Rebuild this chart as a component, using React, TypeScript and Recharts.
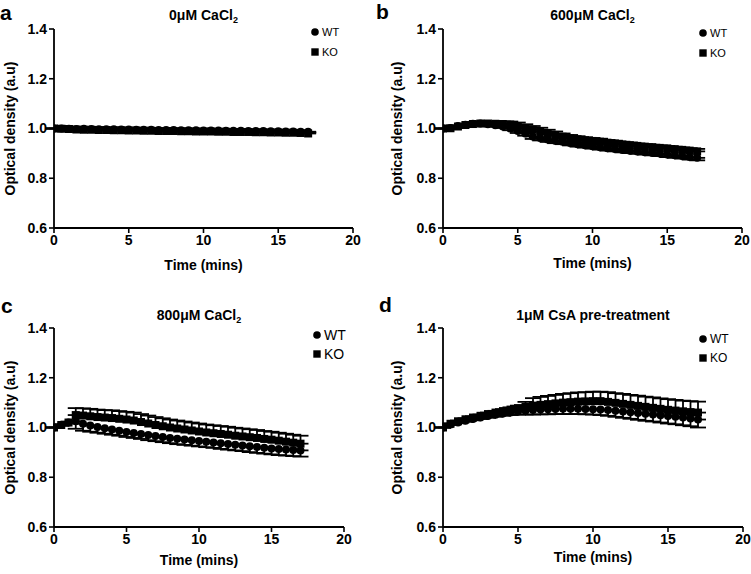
import React from 'react';
import { ScatterChart, Scatter, XAxis, YAxis, ErrorBar, Legend } from 'recharts';

const FONT = '"Liberation Sans", Arial, Helvetica, sans-serif';

const TIME = [0, 0.5, 1, 1.5, 2, 2.5, 3, 3.5, 4, 4.5, 5, 5.5, 6, 6.5, 7, 7.5, 8, 8.5, 9, 9.5, 10, 10.5, 11, 11.5, 12, 12.5, 13, 13.5, 14, 14.5, 15, 15.5, 16, 16.5, 17];
const X_TICKS = [0, 5, 10, 15, 20];
const Y_TICKS = [0.6, 0.8, 1.0, 1.2, 1.4];
const SERIES_NAMES = ['WT', 'KO'];

// Panel a: 0uM CaCl2
const A_WT = [1.000, 1.000, 0.999, 0.998, 0.999, 0.998, 0.997, 0.997, 0.997, 0.996, 0.996, 0.995, 0.995, 0.995, 0.994, 0.994, 0.994, 0.993, 0.993, 0.993, 0.992, 0.992, 0.992, 0.991, 0.991, 0.991, 0.990, 0.990, 0.990, 0.989, 0.989, 0.988, 0.988, 0.987, 0.987];
const A_KO = [1.000, 0.999, 0.998, 0.996, 0.995, 0.995, 0.994, 0.994, 0.993, 0.993, 0.992, 0.992, 0.991, 0.991, 0.990, 0.990, 0.990, 0.989, 0.989, 0.988, 0.988, 0.988, 0.987, 0.987, 0.986, 0.986, 0.986, 0.985, 0.985, 0.984, 0.984, 0.983, 0.983, 0.982, 0.980];
const A_WT_ERR = [0, 0.001, 0.001, 0.001, 0.002, 0.002, 0.002, 0.002, 0.002, 0.002, 0.002, 0.002, 0.002, 0.002, 0.002, 0.002, 0.002, 0.002, 0.002, 0.002, 0.002, 0.002, 0.002, 0.002, 0.002, 0.002, 0.002, 0.002, 0.002, 0.002, 0.002, 0.002, 0.002, 0.002, 0.002];
const A_KO_ERR = [0, 0.001, 0.001, 0.002, 0.002, 0.002, 0.002, 0.002, 0.002, 0.002, 0.002, 0.002, 0.002, 0.002, 0.002, 0.002, 0.002, 0.002, 0.002, 0.002, 0.002, 0.002, 0.002, 0.002, 0.002, 0.002, 0.002, 0.002, 0.002, 0.002, 0.002, 0.002, 0.002, 0.002, 0.003];

// Panel b: 600uM CaCl2
const B_WT = [1.000, 1.002, 1.010, 1.015, 1.019, 1.020, 1.017, 1.013, 1.008, 1.000, 0.990, 0.980, 0.968, 0.962, 0.956, 0.951, 0.947, 0.942, 0.937, 0.933, 0.929, 0.925, 0.921, 0.918, 0.914, 0.911, 0.908, 0.905, 0.902, 0.899, 0.895, 0.892, 0.889, 0.885, 0.882];
const B_KO = [1.000, 1.001, 1.008, 1.014, 1.018, 1.020, 1.020, 1.019, 1.018, 1.016, 1.010, 1.002, 0.995, 0.988, 0.981, 0.974, 0.967, 0.961, 0.957, 0.953, 0.950, 0.947, 0.943, 0.940, 0.936, 0.933, 0.930, 0.927, 0.925, 0.922, 0.920, 0.917, 0.914, 0.911, 0.908];
const B_WT_ERR = [0, 0.002, 0.003, 0.003, 0.004, 0.004, 0.005, 0.005, 0.006, 0.007, 0.008, 0.009, 0.010, 0.010, 0.010, 0.010, 0.010, 0.010, 0.010, 0.010, 0.010, 0.010, 0.010, 0.010, 0.010, 0.010, 0.010, 0.010, 0.010, 0.010, 0.010, 0.010, 0.010, 0.010, 0.010];
const B_KO_ERR = [0, 0.002, 0.003, 0.003, 0.004, 0.005, 0.006, 0.008, 0.010, 0.012, 0.014, 0.015, 0.015, 0.015, 0.014, 0.014, 0.013, 0.013, 0.012, 0.012, 0.012, 0.012, 0.011, 0.011, 0.011, 0.011, 0.010, 0.010, 0.010, 0.010, 0.010, 0.010, 0.010, 0.010, 0.010];

// Panel c: 800uM CaCl2
const C_WT = [1.000, 1.010, 1.020, 1.025, 1.015, 1.008, 1.002, 0.997, 0.992, 0.987, 0.982, 0.978, 0.974, 0.970, 0.966, 0.962, 0.958, 0.955, 0.952, 0.949, 0.946, 0.943, 0.940, 0.937, 0.934, 0.931, 0.928, 0.925, 0.922, 0.919, 0.916, 0.914, 0.912, 0.910, 0.908];
const C_KO = [1.000, 1.010, 1.020, 1.050, 1.048, 1.045, 1.042, 1.040, 1.038, 1.035, 1.032, 1.028, 1.022, 1.016, 1.010, 1.005, 1.000, 0.996, 0.992, 0.988, 0.984, 0.980, 0.977, 0.974, 0.971, 0.967, 0.964, 0.961, 0.958, 0.954, 0.951, 0.947, 0.943, 0.939, 0.935];
const C_WT_ERR = [0, 0.003, 0.004, 0.030, 0.028, 0.025, 0.023, 0.022, 0.021, 0.020, 0.020, 0.020, 0.020, 0.021, 0.021, 0.021, 0.021, 0.022, 0.022, 0.022, 0.022, 0.022, 0.022, 0.023, 0.023, 0.023, 0.023, 0.024, 0.024, 0.024, 0.024, 0.025, 0.025, 0.025, 0.025];
const C_KO_ERR = [0, 0.003, 0.004, 0.028, 0.029, 0.030, 0.030, 0.030, 0.031, 0.031, 0.031, 0.032, 0.032, 0.032, 0.032, 0.032, 0.032, 0.032, 0.032, 0.032, 0.032, 0.032, 0.032, 0.032, 0.032, 0.032, 0.032, 0.032, 0.032, 0.032, 0.032, 0.032, 0.032, 0.032, 0.032];

// Panel d: 1uM CsA pre-treatment
const D_WT = [1.000, 1.012, 1.020, 1.027, 1.034, 1.040, 1.046, 1.051, 1.056, 1.060, 1.064, 1.067, 1.070, 1.072, 1.073, 1.074, 1.075, 1.075, 1.075, 1.074, 1.073, 1.072, 1.070, 1.067, 1.064, 1.061, 1.058, 1.055, 1.052, 1.049, 1.046, 1.043, 1.040, 1.036, 1.032];
const D_KO = [1.000, 1.015, 1.025, 1.033, 1.040, 1.047, 1.054, 1.060, 1.066, 1.072, 1.078, 1.083, 1.088, 1.091, 1.094, 1.097, 1.100, 1.102, 1.104, 1.105, 1.106, 1.106, 1.103, 1.099, 1.095, 1.091, 1.087, 1.083, 1.079, 1.075, 1.071, 1.068, 1.065, 1.062, 1.060];
const D_WT_ERR = [0, 0.002, 0.003, 0.004, 0.005, 0.006, 0.007, 0.008, 0.009, 0.010, 0.012, 0.015, 0.018, 0.019, 0.020, 0.020, 0.021, 0.021, 0.021, 0.021, 0.021, 0.022, 0.023, 0.024, 0.025, 0.026, 0.027, 0.028, 0.028, 0.029, 0.030, 0.030, 0.031, 0.031, 0.032];
const D_KO_ERR = [0, 0.002, 0.003, 0.004, 0.005, 0.005, 0.006, 0.007, 0.008, 0.009, 0.010, 0.020, 0.030, 0.032, 0.033, 0.034, 0.035, 0.036, 0.037, 0.037, 0.038, 0.038, 0.039, 0.039, 0.040, 0.040, 0.041, 0.041, 0.042, 0.042, 0.043, 0.043, 0.043, 0.044, 0.044];

const CircleShape = (props: any) => <circle cx={props.cx} cy={props.cy} r={4} fill="#000" />;
const SquareShape = (props: any) => <rect x={props.cx - 4} y={props.cy - 4} width={8} height={8} fill="#000" />;

type PanelProps = {
  letter: string;
  titleMain: string;
  titleSub?: string;
  axisX: number;
  plotTop: number;
  plotW: number;
  plotH: number;
  yLabelX: number;
  xLabelDy: number;
  wt: number[];
  ko: number[];
  wtErr: number[];
  koErr: number[];
  legendLeft: number;
  legendTop: number;
  legendFont: number;
  legendGap: number;
  letterX: number;
  letterY: number;
  titleY: number;
};

const LegendBox = ({ fs, gap }: { fs: number; gap: number }) => (
  <div style={{ fontFamily: FONT, fontSize: fs, color: '#000' }}>
    {SERIES_NAMES.map((n) => (
      <div key={n} style={{ display: 'flex', alignItems: 'center', height: gap }}>
        <svg width={8} height={8} style={{ display: 'block' }}>
          {n === 'WT' ? <circle cx={4} cy={4} r={3.8} fill="#000" /> : <rect x={0.3} y={0.3} width={7.4} height={7.4} fill="#000" />}
        </svg>
        <span style={{ marginLeft: 3, lineHeight: 1 }}>{n}</span>
      </div>
    ))}
  </div>
);

const ML = 54;
const MT = 10;
const MR = 10;
const XH = 50;

function Panel(p: PanelProps) {
  const wtData = TIME.map((t, i) => ({ t, v: p.wt[i], e: [p.wtErr[i], 0] }));
  const koData = TIME.map((t, i) => ({ t, v: p.ko[i], e: [0, p.koErr[i]] }));
  const chartW = ML + p.plotW + MR;
  const chartH = MT + p.plotH + XH;
  const left = p.axisX - ML;
  const top = p.plotTop - MT;
  const tickStyle = { fill: '#000', fontSize: 14, fontWeight: 700, fontFamily: FONT };
  const xLabel = (lp: any) => {
    const vb = lp.viewBox;
    return (
      <text x={vb.x + vb.width / 2} y={vb.y + p.xLabelDy} textAnchor="middle" dominantBaseline="central"
        style={{ fontFamily: FONT, fontSize: 14, fontWeight: 700, fill: '#000' }}>Time (mins)</text>
    );
  };
  const yLabel = (lp: any) => {
    const vb = lp.viewBox;
    const cx = vb.x + p.yLabelX;
    const cy = vb.y + vb.height / 2;
    return (
      <text x={cx} y={cy} transform={`rotate(-90 ${cx} ${cy})`} textAnchor="middle" dominantBaseline="central"
        style={{ fontFamily: FONT, fontSize: 14, fontWeight: 700, fill: '#000' }}>Optical density (a.u)</text>
    );
  };
  return (
    <>
      <div style={{ position: 'absolute', left: p.letterX, top: p.letterY, fontFamily: FONT, fontWeight: 700, fontSize: 21, lineHeight: 1, color: '#000' }}>{p.letter}</div>
      <div style={{ position: 'absolute', left: p.axisX, width: p.plotW, top: p.titleY, textAlign: 'center', fontFamily: FONT, fontWeight: 700, fontSize: 14, lineHeight: 1, color: '#000' }}>
        {p.titleMain}{p.titleSub ? <sub style={{ fontSize: 9, verticalAlign: -3 }}>{p.titleSub}</sub> : null}
      </div>
      <div style={{ position: 'absolute', left, top }}>
        <ScatterChart width={chartW} height={chartH} margin={{ top: MT, right: MR, bottom: 0, left: 0 }}>
          <XAxis type="number" dataKey="t" domain={[0, 20]} ticks={X_TICKS} allowDataOverflow height={XH}
            axisLine={{ stroke: '#000', strokeWidth: 1.8 }} tickLine={{ stroke: '#000', strokeWidth: 1.6 }} tickSize={5} tickMargin={2}
            tick={tickStyle} label={xLabel} />
          <YAxis type="number" dataKey="v" domain={[0.6, 1.4]} ticks={Y_TICKS} allowDataOverflow width={ML}
            tickFormatter={(v: number) => v.toFixed(1)}
            axisLine={{ stroke: '#000', strokeWidth: 1.8 }} tickLine={{ stroke: '#000', strokeWidth: 1.6 }} tickSize={5} tickMargin={2}
            tick={tickStyle} label={yLabel} />
          <Legend layout="vertical" align="center" verticalAlign="middle"
            wrapperStyle={{ left: p.legendLeft, top: p.legendTop, width: 60 }}
            content={() => <LegendBox fs={p.legendFont} gap={p.legendGap} />} />
          <Scatter name="KO" data={koData} dataKey="v" shape={SquareShape} isAnimationActive={false}>
            <ErrorBar dataKey="e" direction="y" width={8} stroke="#000" strokeWidth={1.8} isAnimationActive={false} />
          </Scatter>
          <Scatter name="WT" data={wtData} dataKey="v" shape={CircleShape} isAnimationActive={false}>
            <ErrorBar dataKey="e" direction="y" width={8} stroke="#000" strokeWidth={1.8} isAnimationActive={false} />
          </Scatter>
        </ScatterChart>
      </div>
    </>
  );
}

export default function App() {
  return (
    <div style={{ position: 'absolute', left: 0, top: 0, width: 751, height: 574, background: '#fff', overflow: 'hidden' }}>
      <Panel letter="a" titleMain="0μM CaCl" titleSub="2" axisX={54} plotTop={29} plotW={299} plotH={199}
        yLabelX={10} xLabelDy={37} wt={A_WT} ko={A_KO} wtErr={A_WT_ERR} koErr={A_KO_ERR}
        legendLeft={311} legendTop={3} legendFont={11} legendGap={20} letterX={0} letterY={2} titleY={8} />
      <Panel letter="b" titleMain="600μM CaCl" titleSub="2" axisX={443} plotTop={29} plotW={299} plotH={199}
        yLabelX={8} xLabelDy={35} wt={B_WT} ko={B_KO} wtErr={B_WT_ERR} koErr={B_KO_ERR}
        legendLeft={310} legendTop={4} legendFont={11} legendGap={20} letterX={376} letterY={1} titleY={8} />
      <Panel letter="c" titleMain="800μM CaCl" titleSub="2" axisX={54} plotTop={328} plotW={290} plotH={199}
        yLabelX={10} xLabelDy={33} wt={C_WT} ko={C_KO} wtErr={C_WT_ERR} koErr={C_KO_ERR}
        legendLeft={313} legendTop={7} legendFont={14} legendGap={19} letterX={1} letterY={295} titleY={308} />
      <Panel letter="d" titleMain="1μM CsA pre-treatment" axisX={443} plotTop={328} plotW={300} plotH={199}
        yLabelX={8} xLabelDy={30} wt={D_WT} ko={D_KO} wtErr={D_WT_ERR} koErr={D_KO_ERR}
        legendLeft={310} legendTop={11} legendFont={12} legendGap={19} letterX={379} letterY={294} titleY={308} />
    </div>
  );
}
